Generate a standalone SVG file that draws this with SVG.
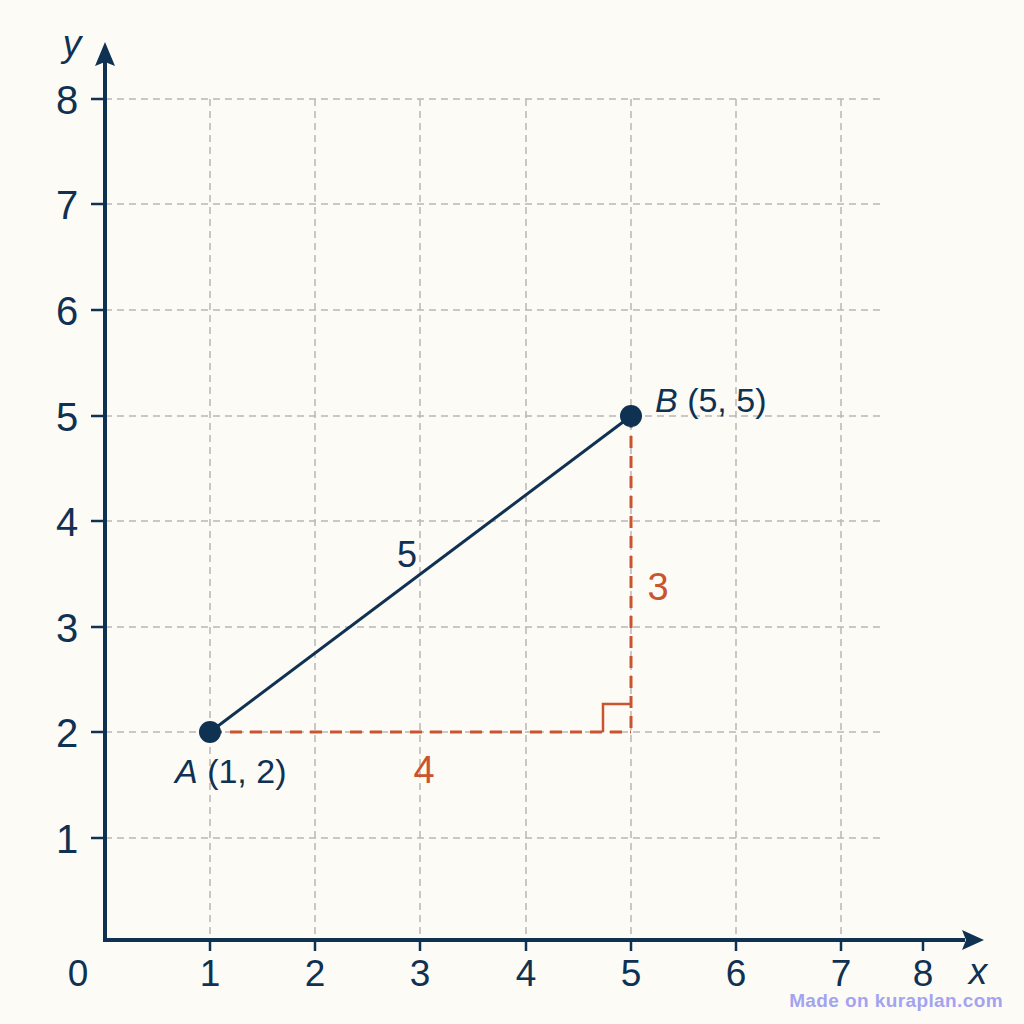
<svg xmlns="http://www.w3.org/2000/svg" width="1024" height="1024" viewBox="0 0 1024 1024">
<defs>
<style>
.grid{stroke:#b8b8b8;stroke-width:1.5;stroke-dasharray:7 5;fill:none}
.axis{stroke:#0f3152;stroke-width:4;fill:none}
.tick{stroke:#0f3152;stroke-width:2.5}
.numy{font-family:"Liberation Sans",Arial,sans-serif;font-size:40px;fill:#0f3152}
.numx{font-family:"Liberation Sans",Arial,sans-serif;font-size:37px;fill:#0f3152}
.lbl{font-family:"Liberation Sans",Arial,sans-serif;font-size:34px;fill:#0f3152}
.seg{font-family:"Liberation Sans",Arial,sans-serif;font-size:36px;fill:#0f3152}
.red{stroke:#c9542f;stroke-width:3;stroke-dasharray:12 8;fill:none}
.redt{font-family:"Liberation Sans",Arial,sans-serif;font-size:38px;fill:#c9542f}
</style>
</defs>
<rect width="1024" height="1024" fill="#fcfbf6"/>
<g id="grid">
<line class="grid" x1="105" y1="99" x2="885" y2="99"/>
<line class="grid" x1="105" y1="204" x2="885" y2="204"/>
<line class="grid" x1="105" y1="310" x2="885" y2="310"/>
<line class="grid" x1="105" y1="416" x2="885" y2="416"/>
<line class="grid" x1="105" y1="521" x2="885" y2="521"/>
<line class="grid" x1="105" y1="627" x2="885" y2="627"/>
<line class="grid" x1="105" y1="732" x2="885" y2="732"/>
<line class="grid" x1="105" y1="838" x2="885" y2="838"/>
<line class="grid" x1="210" y1="99" x2="210" y2="940"/>
<line class="grid" x1="315" y1="99" x2="315" y2="940"/>
<line class="grid" x1="420" y1="99" x2="420" y2="940"/>
<line class="grid" x1="526" y1="99" x2="526" y2="940"/>
<line class="grid" x1="631" y1="99" x2="631" y2="940"/>
<line class="grid" x1="736" y1="99" x2="736" y2="940"/>
<line class="grid" x1="841" y1="99" x2="841" y2="940"/>
</g>
<g id="axes">
<polyline class="axis" points="105,60 105,940 965,940"/>
<polygon points="105,42 95,66 105,62 115,66" fill="#0f3152"/>
<polygon points="984,940 962,930 966,940 962,950" fill="#0f3152"/>
<g class="tick">
<line x1="91" y1="99" x2="105" y2="99"/>
<line x1="91" y1="204" x2="105" y2="204"/>
<line x1="91" y1="310" x2="105" y2="310"/>
<line x1="91" y1="416" x2="105" y2="416"/>
<line x1="91" y1="521" x2="105" y2="521"/>
<line x1="91" y1="627" x2="105" y2="627"/>
<line x1="91" y1="732" x2="105" y2="732"/>
<line x1="91" y1="838" x2="105" y2="838"/>
<line x1="210" y1="940" x2="210" y2="951"/>
<line x1="315" y1="940" x2="315" y2="951"/>
<line x1="420" y1="940" x2="420" y2="951"/>
<line x1="526" y1="940" x2="526" y2="951"/>
<line x1="631" y1="940" x2="631" y2="951"/>
<line x1="736" y1="940" x2="736" y2="951"/>
<line x1="841" y1="940" x2="841" y2="951"/>
<line x1="923" y1="940" x2="923" y2="951"/>
</g>
<g class="numy" text-anchor="middle">
<text x="67" y="114">8</text>
<text x="67" y="219">7</text>
<text x="67" y="325">6</text>
<text x="67" y="431">5</text>
<text x="67" y="536">4</text>
<text x="67" y="642">3</text>
<text x="67" y="747">2</text>
<text x="67" y="853">1</text>
</g>
<g class="numx" text-anchor="middle">
<text x="78" y="986">0</text>
<text x="210" y="986">1</text>
<text x="315" y="986">2</text>
<text x="420" y="986">3</text>
<text x="526" y="986">4</text>
<text x="631" y="986">5</text>
<text x="736" y="986">6</text>
<text x="841" y="986">7</text>
<text x="923" y="986">8</text>
</g>
<text class="numx" x="72" y="56" text-anchor="middle" font-style="italic">y</text>
<text class="numx" x="978" y="984" text-anchor="middle" font-style="italic">x</text>
</g>
<g id="legs">
<line class="red" x1="210" y1="732" x2="631" y2="732"/>
<line class="red" x1="631" y1="416" x2="631" y2="732"/>
<polyline points="603,732 603,704 631,704" fill="none" stroke="#c9542f" stroke-width="2.5"/>
<text class="redt" x="424" y="783" text-anchor="middle">4</text>
<text class="redt" x="658" y="600" text-anchor="middle">3</text>
</g>
<g id="segment">
<line x1="210" y1="732" x2="631" y2="416" stroke="#0f3152" stroke-width="3"/>
<text class="seg" x="407" y="567" text-anchor="middle">5</text>
</g>
<g id="pointA">
<circle cx="210" cy="732" r="11" fill="#0f3152"/>
<text class="lbl" x="175" y="783"><tspan font-style="italic">A</tspan> (1, 2)</text>
</g>
<g id="pointB">
<circle cx="631" cy="416" r="11" fill="#0f3152"/>
<text class="lbl" x="655" y="412"><tspan font-style="italic">B</tspan> (5, 5)</text>
</g>
<text x="1003" y="1007" text-anchor="end" font-family="Liberation Sans,Arial,sans-serif" font-weight="bold" font-size="19" letter-spacing="0.4" fill="#a3a3f0">Made on kuraplan.com</text>
</svg>
